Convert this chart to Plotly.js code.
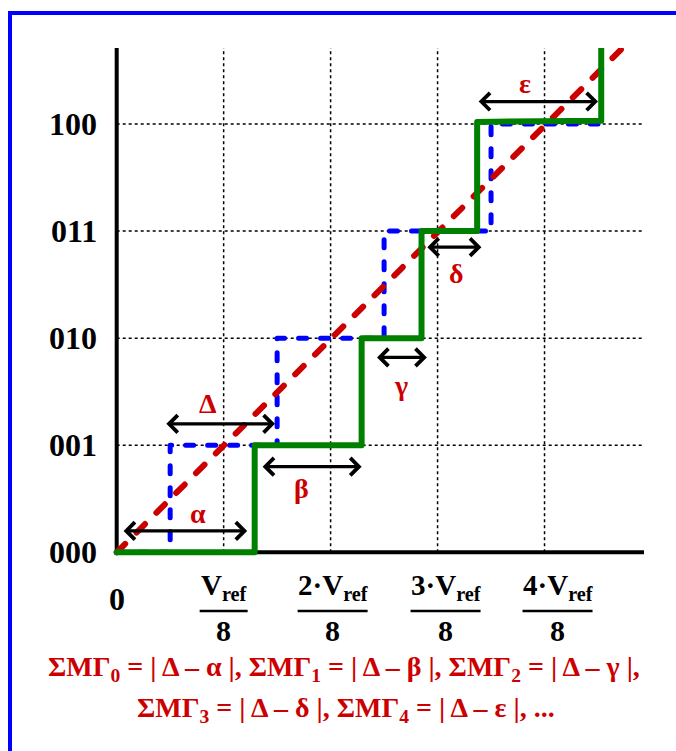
<!DOCTYPE html>
<html><head><meta charset="utf-8">
<script src="https://cdn.plot.ly/plotly-3.0.1.min.js"></script>
<style>
html,body{margin:0;padding:0;background:#fff;}
#wrap{position:relative;width:676px;height:751px;overflow:hidden;}
#chart{position:absolute;left:0;top:0;width:676px;height:751px;}
#frame{position:absolute;left:8px;top:11px;width:700px;height:800px;border-left:4px solid #0000ff;border-top:4px solid #0000ff;pointer-events:none;}
#chart .scatterlayer .js-line{stroke-linecap:round;stroke-linejoin:round;}
</style></head>
<body><div id="wrap"><div id="chart"></div><div id="frame"></div></div>
<script>
// ---- data ----
const codeLabels = ['000','001','010','011','100'];
const codeLevels = [0,1,2,3,4];
const xTickPos = [1,2,3,4];
const xTickNum = ['V<sub>ref</sub>','2·V<sub>ref</sub>','3·V<sub>ref</sub>','4·V<sub>ref</sub>'];
const xTickDen = '8';
const zeroLabel = '0';
const idealX = [0,0.5,0.5,1.5,1.5,2.5,2.5,3.5,3.5,4.5];
const idealY = [0,0,1,1,2,2,3,3,4,4];
const realX = [0,1.29,1.29,2.29,2.29,2.85,2.85,3.37,3.37,4.53,4.53];
const realY = [0,0,1,1,2,2,3,3,4.02,4.03,4.8];
const lineX = [0,4.9];
const lineY = [0,4.88];
const arrowNames = ['α','Δ','β','γ','δ','ε'];
const arrowFrom = [0.05,0.45,1.35,2.42,2.89,3.37];
const arrowTo = [1.22,1.48,2.29,2.90,3.41,4.50];
const arrowLevel = [0.2,1.2,0.8,1.82,2.85,4.21];
const labelX = [0.76,0.85,1.73,2.66,3.18,3.82];
const labelY = [0.36,1.39,0.6,1.56,2.6,4.38];
const formulaLines = [
  'ΣΜΓ<sub>0</sub> = | Δ – α |, ΣΜΓ<sub>1</sub> = | Δ – β |, ΣΜΓ<sub>2</sub> = | Δ – γ |,',
  'ΣΜΓ<sub>3</sub> = | Δ – δ |, ΣΜΓ<sub>4</sub> = | Δ – ε |, ...'
];

// ---- layout constants (styles / positions) ----
const W = 676, H = 751;
const M = {l:106, r:32, t:48, b:188};
const XR = [-0.1, 4.93], YR = [-0.1, 4.71];
const PW = W - M.l - M.r;
const serif = 'Liberation Serif, Times New Roman, serif';
const red = '#cc0000';
const fracShift = [0, 2, 8, 13];
const fracBarHalf = [24, 35, 35, 35];
const pxX = px => (px - M.l) / PW;

const traces = [
  {x: idealX, y: idealY, mode:'lines', line:{color:'#0000ff', width:5, dash:'8px,14px'}, hoverinfo:'skip'},
  {x: lineX, y: lineY, mode:'lines', line:{color:red, width:6, dash:'12px,16px'}, hoverinfo:'skip'},
  {x: realX, y: realY, mode:'lines', line:{color:'#008000', width:6}, hoverinfo:'skip'}
];

const shapes = [];
const dotted = {color:'#000', width:1.5, dash:'3px,3px'};
xTickPos.forEach(v => shapes.push({type:'line', layer:'below', xref:'x', yref:'y', x0:v, x1:v, y0:0, y1:YR[1], line:dotted}));
codeLevels.slice(1).forEach(v => shapes.push({type:'line', layer:'below', xref:'x', yref:'y', x0:0, x1:XR[1], y0:v, y1:v, line:dotted}));
shapes.push({type:'line', layer:'below', xref:'x', yref:'y', x0:0, x1:0, y0:-0.02, y1:YR[1], line:{color:'#000', width:4}});
shapes.push({type:'line', layer:'below', xref:'x', yref:'y', x0:-0.02, x1:XR[1], y0:0, y1:0, line:{color:'#000', width:4}});
xTickPos.forEach((v,i) => shapes.push({type:'line', xref:'x', xsizemode:'pixel', xanchor:v,
  x0:fracShift[i]-fracBarHalf[i], x1:fracShift[i]+fracBarHalf[i],
  yref:'paper', ysizemode:'pixel', yanchor:0, y0:-48, y1:-48, line:{color:'#000', width:2.5}}));

const ann = [];
const tickFont = {family:serif, size:32, color:'#000', weight:'bold'};
codeLabels.forEach((t,i) => ann.push({xref:'paper', yref:'y', x:0, y:codeLevels[i], xanchor:'right', yanchor:'middle',
  xshift:-7, text:t, showarrow:false, font:tickFont}));
ann.push({xref:'x', yref:'paper', x:0, y:0, xanchor:'center', yanchor:'middle', yshift:-36, text:zeroLabel, showarrow:false, font:tickFont});
xTickPos.forEach((v,i) => {
  ann.push({xref:'x', yref:'paper', x:v, y:0, xanchor:'center', yanchor:'middle', xshift:fracShift[i], yshift:-24,
    text:xTickNum[i], showarrow:false, font:{family:serif, size:29, color:'#000', weight:'bold'}});
  ann.push({xref:'x', yref:'paper', x:v, y:0, xanchor:'center', yanchor:'middle', xshift:fracShift[i], yshift:-67,
    text:xTickDen, showarrow:false, font:{family:serif, size:30, color:'#000', weight:'bold'}});
});
arrowNames.forEach((n,i) => {
  ann.push({xref:'x', yref:'y', axref:'x', ayref:'y', x:arrowTo[i], y:arrowLevel[i], ax:arrowFrom[i], ay:arrowLevel[i],
    text:'', showarrow:true, arrowside:'end+start', arrowhead:4, startarrowhead:4, arrowsize:1.05, startarrowsize:1.05,
    arrowwidth:3.2, arrowcolor:'#000', standoff:0, startstandoff:0});
  ann.push({xref:'x', yref:'y', x:labelX[i], y:labelY[i], text:n, showarrow:false,
    font:{family:serif, size:28, color:red, weight:'bold'}});
});
ann.push({xref:'paper', yref:'paper', x:pxX(344), y:0, xanchor:'center', yanchor:'middle', yshift:-105,
  text:formulaLines[0], showarrow:false, font:{family:serif, size:28, color:red, weight:'bold'}});
ann.push({xref:'paper', yref:'paper', x:pxX(346), y:0, xanchor:'center', yanchor:'middle', yshift:-146,
  text:formulaLines[1], showarrow:false, font:{family:serif, size:28, color:red, weight:'bold'}});

const layout = {
  width:W, height:H, margin:M, showlegend:false,
  paper_bgcolor:'#fff', plot_bgcolor:'#fff',
  xaxis:{range:XR, showgrid:false, zeroline:false, showline:false, showticklabels:false, ticks:'', fixedrange:true},
  yaxis:{range:YR, showgrid:false, zeroline:false, showline:false, showticklabels:false, ticks:'', fixedrange:true},
  shapes:shapes, annotations:ann
};
Plotly.newPlot('chart', traces, layout, {staticPlot:true, displayModeBar:false});
</script>
</body></html>
